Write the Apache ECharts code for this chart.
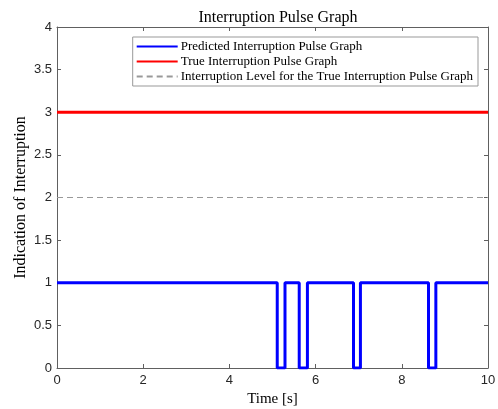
<!DOCTYPE html>
<html><head><meta charset="utf-8">
<script src="https://cdn.jsdelivr.net/npm/echarts@6/dist/echarts.min.js"></script>
<style>html,body{margin:0;padding:0;background:#fff}#c{width:498px;height:409px}</style>
</head><body><div id="c"></div>
<script>
const predTimes = [0, 5.11, 5.29, 5.62, 5.81, 6.88, 7.04, 8.62, 8.79, 10];
const predValues = [1, 0, 1, 0, 1, 0, 1, 0, 1, 1];
const trueTimes = [0, 10];
const trueValues = [3, 3];
const levelTimes = [0, 10];
const levelValues = [2, 2];
const xTicks = [0, 2, 4, 6, 8, 10];
const yTicks = [0, 0.5, 1, 1.5, 2, 2.5, 3, 3.5, 4];
const names = ['Predicted Interruption Pulse Graph', 'True Interruption Pulse Graph', 'Interruption Level for the True Interruption Pulse Graph'];

const zip = (a, b) => a.map((v, i) => [v, b[i]]);
const serif = 'Liberation Serif, DejaVu Serif, serif';
const sans = 'Liberation Sans, Arial, sans-serif';
const axCol = '#606060';
const chart = echarts.init(document.getElementById('c'));
const baseAxis = () => ({
  axisLine: {show: true, onZero: false, lineStyle: {color: axCol, width: 1}},
  axisTick: {show: true, inside: true, length: 4, lineStyle: {color: axCol}},
  splitLine: {show: false}
});
chart.setOption({
  animation: false,
  backgroundColor: '#fff',
  title: {text: 'Interruption Pulse Graph', left: 273, top: 5, textAlign: 'center',
    textStyle: {fontFamily: serif, fontSize: 16, fontWeight: 'normal', color: '#000'}},
  grid: {left: 57, right: 10, top: 27, bottom: 41, containLabel: false, outerBoundsMode: 'none'},
  legend: {
    orient: 'vertical', right: 20, top: 37, itemWidth: 41, itemHeight: 10, itemGap: 2,
    backgroundColor: '#fff', borderColor: '#999', borderWidth: 1, borderRadius: 0,
    padding: [3, 5, 3, 3],
    itemStyle: {opacity: 0},
    textStyle: {fontFamily: serif, fontSize: 13, color: '#000', padding: [0, 0, 0, -2]},
    data: names
  },
  xAxis: [
    Object.assign({type: 'value', min: 0, max: 10, interval: 2, position: 'bottom',
      name: 'Time [s]', nameLocation: 'middle', nameGap: 24, nameMoveOverlap: false,
      nameTextStyle: {fontFamily: serif, fontSize: 15, color: '#000'},
      axisLabel: {fontFamily: sans, fontSize: 13, color: '#262626', margin: 6,
        formatter: v => xTicks.includes(v) ? String(v) : ''}}, baseAxis()),
    Object.assign({type: 'value', min: 0, max: 10, interval: 2, position: 'top',
      axisLabel: {show: false}}, baseAxis())
  ],
  yAxis: [
    Object.assign({type: 'value', min: 0, max: 4, interval: 0.5, position: 'left',
      name: 'Indication of Interruption', nameLocation: 'middle', nameGap: 28, nameMoveOverlap: false,
      nameTextStyle: {fontFamily: serif, fontSize: 16, color: '#000'},
      axisLabel: {fontFamily: sans, fontSize: 13, color: '#262626', margin: 5,
        formatter: v => yTicks.includes(v) ? String(v) : ''}}, baseAxis()),
    Object.assign({type: 'value', min: 0, max: 4, interval: 0.5, position: 'right',
      axisLabel: {show: false}}, baseAxis())
  ],
  series: [
    {name: names[0], type: 'line', step: 'end', data: zip(predTimes, predValues), symbol: 'none',
      lineStyle: {color: '#0000ff', width: 3}, itemStyle: {color: '#0000ff'}, z: 5},
    {name: names[1], type: 'line', data: zip(trueTimes, trueValues), symbol: 'none',
      lineStyle: {color: '#ff0000', width: 3}, itemStyle: {color: '#ff0000'}, z: 4},
    {name: names[2], type: 'line', data: zip(levelTimes, levelValues), symbol: 'none',
      lineStyle: {color: '#999999', width: 1.2, type: [6, 4]}, itemStyle: {color: '#999999'}, z: 3}
  ]
});
</script></body></html>
